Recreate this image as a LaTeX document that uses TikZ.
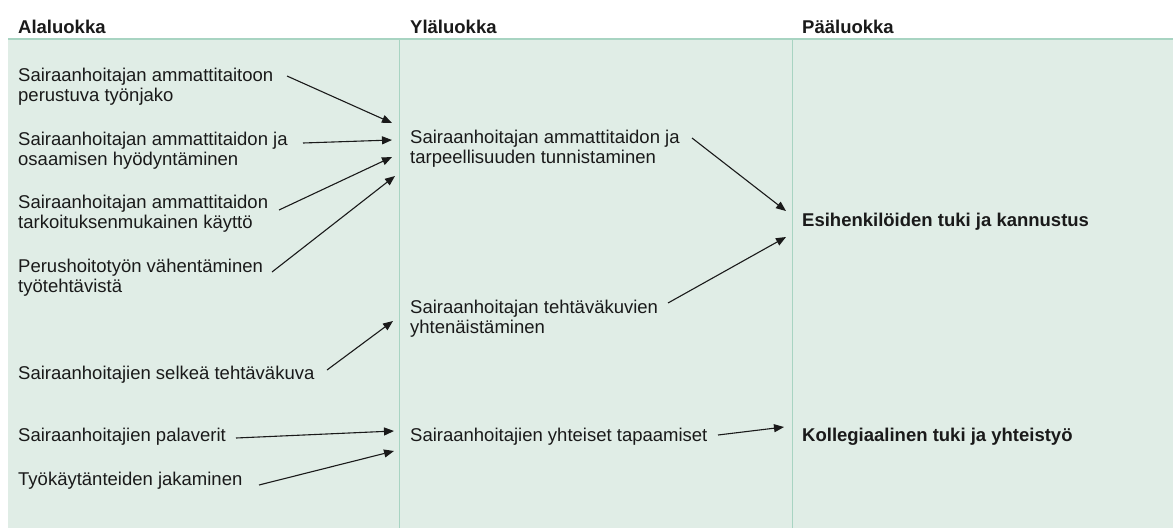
\documentclass[tikz,border=0pt]{standalone}
\usepackage{fontspec}
\setmainfont{Liberation Sans}
\usetikzlibrary{arrows.meta}
\definecolor{panel}{HTML}{E0EDE6}
\definecolor{rulegreen}{HTML}{A8D4C2}
\definecolor{ink}{HTML}{1A1A1A}
\begin{document}
\begin{tikzpicture}[x=1pt,y=-1pt,
  lbl/.style={anchor=base west, inner sep=0pt, align=left, text=ink,
    font=\fontsize{18.5}{20}\selectfont},
  hdr/.style={lbl, font=\fontsize{18.5}{20}\selectfont\bfseries},
  conn/.style={draw=ink, line width=1.1pt, -{Triangle[length=10pt,width=8pt]}}]
\useasboundingbox (0,0) rectangle (1173,528);
% panel and rules
\fill[panel] (8,39) rectangle (1173,528);
\draw[rulegreen, line width=2pt] (8,38.5) -- (1173,38.5);
\draw[rulegreen, line width=0.9pt] (399,39.5) -- (399,528);
\draw[rulegreen, line width=0.9pt] (792,39.5) -- (792,528);
% headers
\node[hdr] (h1) at (18,33) {Alaluokka};
\node[hdr] (h2) at (410,33) {Yläluokka};
\node[hdr] (h3) at (802,33) {Pääluokka};
% left column (base anchor = baseline of last line)
\node[lbl] (L1) at (18,101) {Sairaanhoitajan ammattitaitoon\\perustuva työnjako};
\node[lbl] (L2) at (18,165) {Sairaanhoitajan ammattitaidon ja\\osaamisen hyödyntäminen};
\node[lbl] (L3) at (18,228) {Sairaanhoitajan ammattitaidon\\tarkoituksenmukainen käyttö};
\node[lbl] (L4) at (18,292) {Perushoitotyön vähentäminen\\työtehtävistä};
\node[lbl] (L5) at (18,379) {Sairaanhoitajien selkeä tehtäväkuva};
\node[lbl] (L6) at (18,441) {Sairaanhoitajien palaverit};
\node[lbl] (L7) at (18,485) {Työkäytänteiden jakaminen};
% middle column
\node[lbl] (M1) at (410,163) {Sairaanhoitajan ammattitaidon ja\\tarpeellisuuden tunnistaminen};
\node[lbl] (M2) at (410,333) {Sairaanhoitajan tehtäväkuvien\\yhtenäistäminen};
\node[lbl] (M3) at (410,441) {Sairaanhoitajien yhteiset tapaamiset};
% right column
\node[hdr] (R1) at (802,226) {Esihenkilöiden tuki ja kannustus};
\node[hdr] (R2) at (802,441) {Kollegiaalinen tuki ja yhteistyö};
% connector end points
\coordinate (a1s) at (287,76);  \coordinate (a1e) at (392,123);
\coordinate (a2s) at (303,143); \coordinate (a2e) at (392,140);
\coordinate (a3s) at (279,210); \coordinate (a3e) at (392,157);
\coordinate (a4s) at (272,272); \coordinate (a4e) at (395,176);
\coordinate (a5s) at (327,370); \coordinate (a5e) at (393,321);
\coordinate (a6s) at (236,438); \coordinate (a6e) at (394,431);
\coordinate (a7s) at (259,485); \coordinate (a7e) at (394,451);
\coordinate (b1s) at (692,138); \coordinate (b1e) at (786,211);
\coordinate (b2s) at (668,303); \coordinate (b2e) at (786,237);
\coordinate (b3s) at (718,435); \coordinate (b3e) at (784,427);
\foreach \c in {a1,a2,a3,a4,a5,a6,a7,b1,b2,b3}
  \draw[conn] (\c s) -- (\c e);
\end{tikzpicture}
\end{document}
